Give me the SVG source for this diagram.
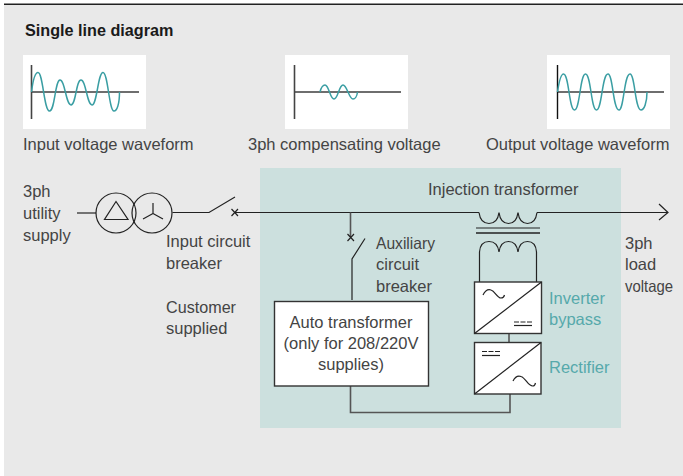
<svg xmlns="http://www.w3.org/2000/svg" width="683" height="476" viewBox="0 0 683 476">
<style>
text{font-family:"Liberation Sans",Arial,sans-serif;font-size:16.5px;fill:#444}
.t{fill:#56a9ab}
.l{fill:none;stroke:#222;stroke-width:1.2}
.g{fill:none;stroke:#555;stroke-width:1.6}
.ax{fill:none;stroke:#6e6e6e;stroke-width:2}
.v{fill:none;stroke:#444;stroke-width:1.6}
.w{fill:none;stroke:#3a9ea3;stroke-width:1.5}
.b{fill:#fff;stroke:#333;stroke-width:1.4}
</style>
<rect width="683" height="476" fill="#fff"/>
<rect x="4" y="4" width="679" height="472" fill="#e9e9e9"/>
<rect x="4" y="3.500" width="679" height="1.500" fill="#222"/>
<rect x="260" y="168" width="361" height="260" fill="#cce0de"/>
<text x="25" y="36" style="font-weight:700;font-size:16.200px;fill:#1a1a1a">Single line diagram</text>
<g id="wave-input">
<rect x="23" y="55" width="123" height="74" fill="#fff"/>
<path class="ax" d="M31 92H139"/><path class="v" d="M31.500 65V119"/>
<path class="w" d="M31.500 92C33 80 35 72.500 38 72.500C43 72.500 44 111 49.500 111C55 111 55 80 60 80C65 80 66 105 71 105C76 105 76 80 81 80C86 80 87 105 92 105C97 105 98 72.500 103 72.500C108 72.500 109 111 114 111C117 111 119.500 104 119.500 92"/>
<text x="23" y="150">Input voltage waveform</text>
</g>
<g id="wave-compensating">
<rect x="285" y="55" width="123" height="74" fill="#fff"/>
<path class="ax" d="M294 92H401"/><path class="v" d="M294.500 65V119"/>
<path class="w" d="M320 92C321 88 323 85 325 85C329 85 330 99 334 99C338 99 339 85 343 85C347 85 349 99 353 99C355 99 357 96 357.500 92"/>
<text x="248" y="150">3ph compensating voltage</text>
</g>
<g id="wave-output">
<rect x="547" y="55" width="123" height="74" fill="#fff"/>
<path class="ax" d="M557 92H664"/><path d="M557.500 65V119" fill="none" stroke="#111" stroke-width="1.400"/>
<path class="w" d="M557.500 92C559 82 561 74 563.500 74C569 74 569 110 574.500 110C580 110 580 74 585.500 74C591 74 591 110 596.500 110C602 110 602 74 608 74C613 74 613 110 619 110C624 110 624 74 630 74C635 74 635 110 641 110C644 110 647 103 647 92"/>
<text x="486" y="150">Output voltage waveform</text>
</g>
<g id="connectors">
<path class="g" d="M77 213H96"/>
<path class="l" d="M172.500 212.500H209L235 197"/>
<path class="l" d="M235 212.500H479M537 212.500H668M659 204L668 212.500L659 220"/>
<path class="l" d="M231.500 209L238 216M238 209L231.500 216"/>
<path class="g" d="M350.500 212.500V237"/>
<path class="l" d="M347.500 234L354 241M354 234L347.500 241"/>
<path class="l" d="M365 238.500L352 259V300"/>
<path class="g" d="M350.500 386V412.500H510V394"/>
<path class="g" d="M509 333.500V342.500"/>
<path class="l" d="M479 212.500C480 220 483 223.500 489 223.500C495 223.500 498 220 499 212.500C500 220 503 223.500 508.500 223.500C514 223.500 517 220 518 212.500C519 220 522 223.500 527.500 223.500C533 223.500 536 220 537 212.500"/>
<path class="l" d="M476 228H540"/><path class="l" d="M476 233H540" style="stroke-width:1.600"/>
<path class="l" d="M479.500 282V252C480 245 483 241.500 489 241.500C495 241.500 498 245 499 252C500 245 503 241.500 508.500 241.500C514 241.500 517 245 518 252C519 245 522 241.500 527.500 241.500C533 241.500 536 245 536.500 252V282"/>
</g>
<g id="utility-transformer">
<circle class="l" cx="116" cy="213" r="20"/><circle class="l" cx="152" cy="213" r="20"/>
<path class="l" d="M116 201.500L128 219.500H104.500Z"/>
<path class="l" d="M153 203V213.500M153 213.500L143 219M153 213.500L163 219"/>
</g>
<g id="auto-transformer">
<rect class="b" x="274.500" y="301.500" width="154" height="84.500"/>
<text x="351" y="328" text-anchor="middle">Auto transformer</text>
<text x="351" y="349" text-anchor="middle">(only for 208/220V</text>
<text x="351" y="370" text-anchor="middle">supplies)</text>
</g>
<g id="inverter">
<rect class="b" x="474.500" y="282" width="67" height="51.500"/>
<path class="l" d="M474.500 333.500L541.500 282"/>
<path class="l" d="M483 295C485 291 488 289 491 290C495 291 497 298 501 298C503 298 504 297 504.500 295"/>
<path class="l" d="M514 322H532" stroke-dasharray="5 1.500"/><path class="l" d="M514 325.500H532"/>
</g>
<g id="rectifier">
<rect class="b" x="474.500" y="342.500" width="66.500" height="51.500"/>
<path class="l" d="M474.500 394L541 342.500"/>
<path class="l" d="M482 351.500H500" stroke-dasharray="5 1.500"/><path class="l" d="M482 355.500H500"/>
<path class="l" d="M513 381C515 377 518 375.500 521 376.500C526 378 528 386.500 533 386C534 386 535 385 535.500 383"/>
</g>
<g id="labels">
<text x="23" y="197">3ph</text><text x="23" y="219">utility</text><text x="23" y="241">supply</text>
<text x="166" y="247">Input circuit</text><text x="166" y="269">breaker</text>
<text x="166" y="313" textLength="70" lengthAdjust="spacingAndGlyphs">Customer</text><text x="166" y="334">supplied</text>
<text x="428" y="195">Injection transformer</text>
<text x="376" y="249" textLength="59" lengthAdjust="spacingAndGlyphs">Auxiliary</text><text x="376" y="270">circuit</text><text x="376" y="292">breaker</text>
<text x="625" y="249">3ph</text><text x="625" y="270">load</text><text x="625" y="292" textLength="48" lengthAdjust="spacingAndGlyphs">voltage</text>
<text class="t" x="549" y="304">Inverter</text><text class="t" x="549" y="325">bypass</text>
<text class="t" x="549" y="373">Rectifier</text>
</g>
</svg>
